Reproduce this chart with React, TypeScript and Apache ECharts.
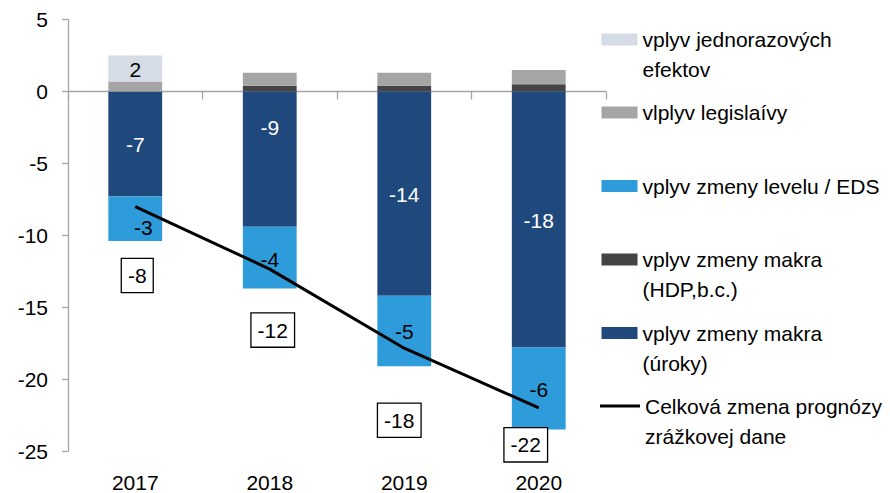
import React, { useEffect, useRef } from 'react';
import * as echarts from 'echarts';

// ---- data ----
const categories = ['2017', '2018', '2019', '2020'];
const yTickMin = -25;
const yTickMax = 5;
const yTickStep = 5;
const oneOffEffects = [1.8, 0, 0, 0];
const legislationEffects = [0.7, 0.9, 0.9, 1.0];
const macroGdpEffects = [0, 0.4, 0.4, 0.5];
const macroRateEffects = [-7.3, -9.4, -14.2, -17.8];
const levelEdsEffects = [-3.1, -4.3, -4.9, -5.7];
const totalChange = [-8.0, -12.35, -17.85, -22.0];

// ---- names ----
const N_ONEOFF = 'vplyv jednorazových efektov';
const N_LEGIS = 'vlplyv legislaívy';
const N_LEVEL = 'vplyv zmeny levelu / EDS';
const N_GDP = 'vplyv zmeny makra (HDP,b.c.)';
const N_RATES = 'vplyv zmeny makra (úroky)';
const N_TOTAL = 'Celková zmena prognózy zrážkovej dane';

// a leading blank line keeps the swatch level with the first text line
const legendText: Record<string, string> = {
  [N_ONEOFF]: ' \nvplyv jednorazových\nefektov',
  [N_LEGIS]: 'vlplyv legislaívy',
  [N_LEVEL]: 'vplyv zmeny levelu / EDS',
  [N_GDP]: ' \nvplyv zmeny makra\n(HDP,b.c.)',
  [N_RATES]: ' \nvplyv zmeny makra\n(úroky)',
  [N_TOTAL]: ' \nCelková zmena prognózy\nzrážkovej dane',
};

// ---- styles / label placement ----
const FONT = '"Liberation Sans", Arial, Helvetica, sans-serif';
const C_ONEOFF = '#d6dce5';
const C_LEGIS = '#a5a5a5';
const C_GDP = '#444444';
const C_RATES = '#1f497d';
const C_LEVEL = '#2e9bdb';
const rateLabelOffsets = [[0, 1], [0, -32], [0, 1], [0, 1]];
const levelLabelOffsets = [[8, 9], [0, 2], [0, 1], [0, 1]];
const totalLabelOffsets = [[2, 69], [3, 61], [-5, 72], [-13, 37]];

const legendRows = [
  { name: N_ONEOFF, center: 39.5, twoLine: true, line: false },
  { name: N_LEGIS, center: 112.5, twoLine: false, line: false },
  { name: N_LEVEL, center: 186, twoLine: false, line: false },
  { name: N_GDP, center: 259.5, twoLine: true, line: false },
  { name: N_RATES, center: 333, twoLine: true, line: false },
  { name: N_TOTAL, center: 406, twoLine: true, line: true },
];

const roundLabel = (p: any) => {
  const v = p.value;
  if (v == null || Math.abs(v) < 0.5) return '';
  return String(Math.round(v));
};

export default function App() {
  const ref = useRef<HTMLDivElement>(null);

  useEffect(() => {
    if (!ref.current) return;
    const chart = echarts.init(ref.current, undefined, { renderer: 'svg' });

    const bar = (name: string, data: any[], color: string, label: any) => ({
      name,
      type: 'bar',
      stack: 'total',
      barWidth: '40%',
      xAxisIndex: 0,
      itemStyle: { color },
      label,
      data,
    });

    const legends = legendRows.map((r) => ({
      show: true,
      left: r.line ? 600 : 601.5,
      top: r.twoLine ? r.center - 45 : r.center - 15,
      orient: 'vertical',
      padding: 0,
      itemWidth: r.line ? 40 : 36,
      itemHeight: r.line ? 3 : 12,
      selectedMode: false,
      data: [{ name: r.name, icon: 'rect' }],
      formatter: (n: string) => legendText[n] || n,
      textStyle: {
        fontSize: 21,
        lineHeight: 30,
        color: '#000',
        fontFamily: FONT,
      },
    }));

    chart.setOption({
      animation: false,
      backgroundColor: '#fff',
      grid: { left: 68, right: 284, top: 19.6, bottom: 42, containLabel: false },
      legend: legends,
      xAxis: [
        {
          type: 'category',
          data: categories,
          position: 'bottom',
          axisLine: { show: false, onZero: false },
          axisTick: { show: false },
          axisLabel: { fontSize: 21, color: '#000', fontFamily: FONT, margin: 21 },
          splitLine: { show: false },
        },
        {
          type: 'category',
          data: categories,
          position: 'bottom',
          axisLine: { show: true, onZero: true, lineStyle: { color: '#a6a6a6', width: 1.3 } },
          axisTick: { show: true, length: 8, lineStyle: { color: '#a6a6a6', width: 1.3 } },
          axisLabel: { show: false },
          splitLine: { show: false },
        },
      ],
      yAxis: {
        type: 'value',
        min: yTickMin,
        max: yTickMax,
        interval: yTickStep,
        axisLine: { show: true, lineStyle: { color: '#a6a6a6', width: 1.3 } },
        axisTick: { show: true, length: 6, lineStyle: { color: '#a6a6a6', width: 1.3 } },
        axisLabel: { fontSize: 21, color: '#000', fontFamily: FONT, margin: 20 },
        splitLine: { show: false },
      },
      series: [
        bar(N_GDP, macroGdpEffects, C_GDP, { show: false }),
        bar(
          N_RATES,
          macroRateEffects.map((v, i) => ({ value: v, label: { offset: rateLabelOffsets[i] } })),
          C_RATES,
          { show: true, position: 'inside', color: '#fff', fontSize: 21, fontFamily: FONT, formatter: roundLabel }
        ),
        bar(N_LEGIS, legislationEffects, C_LEGIS, { show: false }),
        bar(
          N_LEVEL,
          levelEdsEffects.map((v, i) => ({ value: v, label: { offset: levelLabelOffsets[i] } })),
          C_LEVEL,
          { show: true, position: 'inside', color: '#000', fontSize: 21, fontFamily: FONT, formatter: roundLabel }
        ),
        bar(N_ONEOFF, oneOffEffects, C_ONEOFF, {
          show: true,
          position: 'inside',
          color: '#000',
          fontSize: 21,
          fontFamily: FONT,
          offset: [0, 1],
          formatter: roundLabel,
        }),
        {
          name: N_TOTAL,
          type: 'line',
          xAxisIndex: 0,
          symbol: 'circle',
          symbolSize: 0.1,
          showSymbol: true,
          z: 5,
          itemStyle: { color: '#000' },
          lineStyle: { color: '#000', width: 3 },
          label: {
            show: true,
            position: 'inside',
            color: '#000',
            fontSize: 21,
            fontFamily: FONT,
            backgroundColor: '#fff',
            borderColor: '#000',
            borderWidth: 1.3,
            padding: [7, 6, 5, 6],
            formatter: roundLabel,
          },
          data: totalChange.map((v, i) => ({ value: v, label: { offset: totalLabelOffsets[i] } })),
        },
      ],
    });

    return () => chart.dispose();
  }, []);

  return (
    <div
      ref={ref}
      style={{ position: 'fixed', left: 0, top: 0, width: 890, height: 493, background: '#fff' }}
    />
  );
}
